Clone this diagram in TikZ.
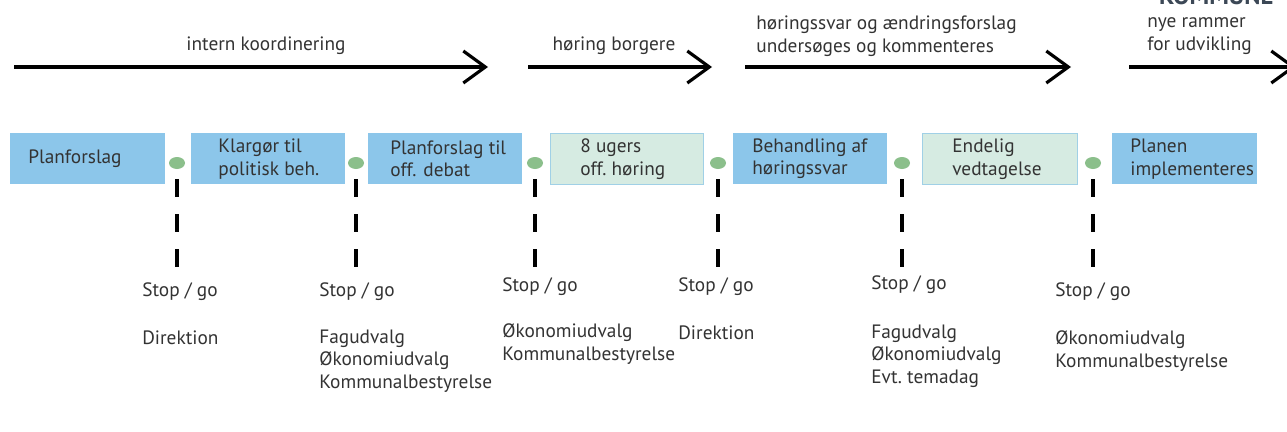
\documentclass[tikz,border=0pt]{standalone}
\usepackage{fontspec}
\setmainfont{PT Sans}
\usetikzlibrary{positioning, shapes.geometric, arrows.meta}

\definecolor{planblue}{RGB}{140,198,234}
\definecolor{hearfill}{RGB}{214,235,226}
\definecolor{hearline}{RGB}{160,208,230}
\definecolor{gategreen}{RGB}{139,191,139}
\definecolor{textgray}{RGB}{51,51,51}
\definecolor{logogray}{RGB}{60,72,86}

\tikzset{
  stage/.style={anchor=north west, minimum height=10.2mm, inner sep=0pt},
  planbox/.style={stage, fill=planblue},
  hearbox/.style={stage, fill=hearfill, draw=hearline, line width=0.8pt},
  gate/.style={ellipse, fill=gategreen, minimum width=3.2mm, minimum height=2.4mm, inner sep=0pt},
  stopline/.style={line width=2.2pt, dash pattern=on 3.6mm off 3.4mm, shorten <=2mm},
  flow/.style={line width=1.8pt, -{Straight Barb[length=4.4mm, width=6.4mm]}},
  txt/.style={anchor=west, align=left, inner sep=0pt}
}

\begin{document}
\begin{tikzpicture}[x=0.2mm, y=-0.2mm, every node/.style={font=\fontsize{11}{12.8}\selectfont, text=textgray}]

\path[use as bounding box, fill=white] (0,0) rectangle (1287,432);

% cropped logo text at the top edge
\node[anchor=base west, font=\fontsize{14}{14}\selectfont\bfseries, text=logogray] (logo) at (1153,4) {KOMMUNE};

% Phases (top arrows)
\coordinate (a1s) at (14,67);   \coordinate (a1e) at (488,67);
\coordinate (a2s) at (528,67);  \coordinate (a2e) at (712,67);
\coordinate (a3s) at (745,67);  \coordinate (a3e) at (1071,67);
\coordinate (a4s) at (1129,67); \coordinate (a4e) at (1296,67);
\draw[flow] (a1s) -- (a1e);
\draw[flow] (a2s) -- (a2e);
\draw[flow] (a3s) -- (a3e);
\draw[flow] (a4s) -- (a4e);

\node (l1) at (266,46) {intern koordinering};
\node (l2) at (614,46) {høring borgere};
\node[txt] (l3) at (756,36) {høringssvar og ændringsforslag\\undersøges og kommenteres};
\node[txt] (l4) at (1147,36) {nye rammer\\for udvikling};

% Process steps
\node[planbox, minimum width=31mm]   (b1) at (10,133) {};
\node[planbox, minimum width=30.8mm] (b2) at (191,133) {};
\node[planbox, minimum width=30.8mm] (b3) at (368,133) {};
\node[hearbox, minimum width=30.6mm] (b4) at (550,133) {};
\node[planbox, minimum width=30.8mm] (b5) at (733,133) {};
\node[hearbox, minimum width=31mm]   (b6) at (922,133) {};
\node[planbox, minimum width=29mm]   (b7) at (1112,133) {};

\node[txt, right=3.6mm of b1.west] (t1) {Planforslag};
\node[txt, right=5.4mm of b2.west] (t2) {Klargør til\\politisk beh.};
\node[txt, right=4.4mm of b3.west] (t3) {Planforslag til\\off. debat};
\node[txt, right=6mm of b4.west]   (t4) {8 ugers\\off.\ høring};
\node[txt, right=3.8mm of b5.west] (t5) {Behandling af\\høringssvar};
\node[txt, right=6mm of b6.west]   (t6) {Endelig\\vedtagelse};
\node[txt, right=3.6mm of b7.west] (t7) {Planen\\implementeres};

% Stop / go gates
\foreach \n/\x in {1/177, 2/356, 3/535, 4/718, 5/902, 6/1093} {
  \node[gate] (d\n) at (\x,163) {};
  \coordinate (e\n) at (\x,270);
  \draw[stopline] (d\n) -- (e\n);
}

\node[txt] (s1) at (142,292) {Stop / go};
\node[txt] (s2) at (319,292) {Stop / go};
\node[txt] (s3) at (502,287) {Stop / go};
\node[txt] (s4) at (678,287) {Stop / go};
\node[txt] (s5) at (871,285) {Stop / go};
\node[txt] (s6) at (1055,292) {Stop / go};

\node[txt] (w1) at (142,338) {Direktion};
\node[txt] (w2) at (319,361) {Fagudvalg\\Økonomiudvalg\\Kommunalbestyrelse};
\node[txt] (w3) at (502,344) {Økonomiudvalg\\Kommunalbestyrelse};
\node[txt] (w4) at (678,333) {Direktion};
\node[txt] (w5) at (871,356) {Fagudvalg\\Økonomiudvalg\\Evt.\ temadag};
\node[txt] (w6) at (1055,351) {Økonomiudvalg\\Kommunalbestyrelse};

\end{tikzpicture}
\end{document}
